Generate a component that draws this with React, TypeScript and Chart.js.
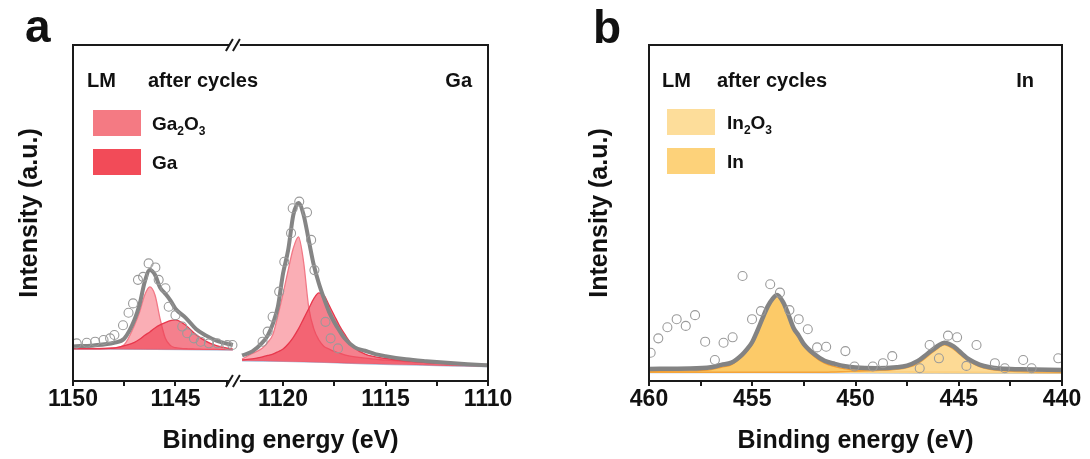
import React, { useEffect, useRef } from 'react';
import { Chart, registerables } from 'chart.js';

Chart.register(...registerables);

const FONT = '"Liberation Sans", Arial, Helvetica, sans-serif';

// ---------------- Panel a : Ga 2p (broken axis) ----------------
const gaTickEnergies = [1150, 1147.5, 1145, 1142.5, 1120, 1117.5, 1115, 1112.5, 1110];
const gaAxisStart = 1150;
const gaBreakLow = 1142.1;
const gaBreakHigh = 1122.35;

const gaLeftE = [1150, 1149, 1148, 1147.5, 1147, 1146.75, 1146.5, 1146.25, 1146, 1145.75, 1145.5, 1145.25, 1145, 1144.5, 1144, 1143.5, 1143, 1142.2];
const gaLeftEnvelope = [10.3, 10.6, 11.4, 12.6, 18.2, 22.8, 29.5, 33.0, 31.6, 27.8, 26.0, 24.0, 21.5, 18.8, 15.5, 13.5, 12.0, 10.7];
const gaLeftGa2O3 = [9.7, 9.7, 9.9, 10.8, 16.6, 20.5, 25.6, 28.0, 25.6, 18.5, 12.8, 10.6, 9.9, 9.6, 9.5, 9.4, 9.4, 9.3];
const gaLeftGa = [9.6, 9.6, 9.8, 10.5, 11.5, 12.4, 13.6, 14.6, 15.8, 16.7, 17.4, 18.0, 18.2, 16.6, 13.8, 11.8, 10.5, 9.5];
const gaLeftBgE = [1150, 1146, 1142.2];
const gaLeftBg = [9.5, 9.4, 9.2];
const gaLeftRawE = [1149.82, 1149.33, 1148.92, 1148.51, 1148.19, 1147.98, 1147.56, 1147.29, 1147.07, 1146.83, 1146.58, 1146.31, 1145.98, 1145.82, 1145.49, 1145.33, 1145.0, 1144.67, 1144.43, 1144.1, 1143.77, 1143.37, 1142.96, 1142.47, 1142.22];
const gaLeftRaw = [11.2, 11.4, 11.7, 12.2, 12.7, 13.7, 16.6, 20.3, 23.1, 30.1, 31.0, 35.0, 33.8, 30.1, 27.6, 22.1, 19.6, 16.2, 14.2, 12.7, 11.7, 11.2, 11.2, 10.7, 10.7];

const gaRightE = [1122, 1121.5, 1121, 1120.75, 1120.5, 1120.25, 1120, 1119.75, 1119.5, 1119.25, 1119, 1118.75, 1118.5, 1118.25, 1118, 1117.75, 1117.5, 1117.25, 1117, 1116.5, 1116, 1115.5, 1115, 1114, 1113, 1112, 1111, 1110];
const gaRightEnvelope = [7.6, 8.8, 11.5, 13.5, 17.0, 22.2, 32.0, 39.0, 49.4, 53.0, 49.5, 42.0, 34.5, 29.0, 24.5, 20.5, 17.5, 15.0, 12.7, 10.0, 9.0, 8.0, 7.4, 6.5, 5.9, 5.4, 5.0, 4.7];
const gaRightGa2O3 = [6.5, 8.2, 9.8, 11.5, 13.8, 19.5, 26.0, 33.0, 39.5, 42.9, 35.5, 22.0, 15.5, 12.2, 10.3, 9.5, 8.8, 8.3, 7.8, 7.2, 6.8, 6.5, 6.2, 5.8, 5.5, 5.2, 5.0, 4.8];
const gaRightGa = [6.3, 6.6, 7.2, 7.6, 8.0, 8.7, 9.5, 11.0, 13.0, 15.5, 18.5, 21.5, 24.5, 26.2, 25.5, 22.5, 19.5, 16.5, 14.0, 9.8, 8.0, 7.2, 6.7, 6.0, 5.5, 5.2, 4.9, 4.6];
const gaRightBgE = [1122, 1120, 1118, 1116, 1114, 1112, 1110];
const gaRightBg = [6.0, 5.8, 5.5, 5.1, 4.8, 4.5, 4.3];
const gaRightRawE = [1121.0, 1120.75, 1120.51, 1120.19, 1119.94, 1119.61, 1119.53, 1119.21, 1118.83, 1118.63, 1118.47, 1117.93, 1117.68, 1117.32];
const gaRightRaw = [11.7, 14.7, 19.1, 26.6, 35.5, 44.0, 51.4, 53.4, 50.2, 42.0, 33.0, 17.6, 12.7, 9.7];

// ---------------- Panel b : In 3d ----------------
const inTickEnergies = [460, 457.5, 455, 452.5, 450, 447.5, 445, 442.5, 440];
const inE = [460, 458, 457, 456.5, 456, 455.5, 455.25, 455, 454.75, 454.5, 454.25, 454, 453.8, 453.5, 453.25, 453, 452.75, 452.5, 452, 451.5, 451, 450.5, 450, 449, 448, 447.5, 447, 446.5, 446, 445.7, 445.25, 445, 444.5, 444, 443.5, 443, 442, 440];
const inEnvelope = [3.6, 3.7, 4.1, 4.8, 5.5, 7.8, 9.5, 11.6, 15.0, 18.7, 22.2, 24.6, 25.6, 23.4, 19.8, 15.8, 13.5, 11.0, 8.0, 6.0, 5.1, 4.4, 4.0, 3.8, 4.1, 4.6, 5.9, 8.2, 10.5, 11.4, 10.3, 9.0, 6.4, 4.9, 4.1, 3.7, 3.5, 3.3];
const inMetal = [2.9, 3.0, 3.4, 4.1, 4.9, 7.2, 8.9, 11.0, 14.4, 18.1, 21.7, 24.1, 25.2, 23.0, 19.3, 15.2, 12.9, 10.4, 7.3, 5.3, 4.3, 3.6, 3.2, 2.9, 2.8, 2.8, 2.7, 2.7, 2.7, 2.7, 2.7, 2.7, 2.6, 2.6, 2.6, 2.6, 2.6, 2.5];
const inOxide = [2.6, 2.6, 2.6, 2.6, 2.6, 2.6, 2.6, 2.6, 2.6, 2.6, 2.6, 2.6, 2.6, 2.6, 2.6, 2.6, 2.6, 2.6, 2.6, 2.6, 2.7, 2.8, 2.9, 3.1, 3.5, 4.0, 5.1, 7.4, 9.8, 10.8, 9.5, 8.2, 5.8, 4.3, 3.5, 3.1, 2.8, 2.6];
const inBgE = [460, 450, 440];
const inBg = [2.5, 2.4, 2.3];
const inRawE = [459.92, 459.55, 459.11, 458.66, 458.22, 457.77, 457.28, 456.81, 456.39, 455.95, 455.47, 455.01, 454.58, 454.13, 453.66, 453.2, 452.75, 452.31, 451.86, 451.42, 450.49, 450.05, 449.16, 448.67, 448.22, 446.89, 446.41, 445.96, 445.52, 445.08, 444.63, 444.14, 443.25, 442.77, 441.88, 441.47, 440.18];
const inRaw = [8.4, 12.7, 16.0, 18.4, 16.4, 19.6, 11.7, 6.25, 11.4, 13.0, 31.25, 18.4, 20.8, 28.8, 26.3, 21.1, 18.4, 15.4, 10.0, 10.2, 8.9, 4.3, 4.3, 5.3, 7.4, 3.8, 10.7, 6.75, 13.5, 13.0, 4.5, 10.7, 5.3, 3.8, 6.25, 3.8, 6.75];

// ---------------- helpers ----------------
const gaToU = (e: number) =>
  e >= (gaBreakLow + gaBreakHigh) / 2 ? gaAxisStart - e : gaAxisStart - gaBreakLow + gaBreakHigh - e;
const gaFromU = (u: number) =>
  u <= gaAxisStart - gaBreakLow ? gaAxisStart - u : gaAxisStart - gaBreakLow + gaBreakHigh - u;

const ptsA = (E: number[], I: number[]) => E.map((e, i) => ({ x: gaToU(e), y: I[i] }));
const ptsB = (E: number[], I: number[]) => E.map((e, i) => ({ x: e, y: I[i] }));

type TextItem = { parts: [string, boolean][]; x: number; y: number; size: number; align?: 'left' | 'right' };
type Swatch = { x: number; y: number; w: number; h: number; color: string };
type Spec = { texts: TextItem[]; swatches: Swatch[]; breakE?: number };

function drawParts(ctx: CanvasRenderingContext2D, t: TextItem) {
  const sub = Math.round(t.size * 0.65);
  const widths = t.parts.map(([s, isSub]) => {
    ctx.font = `bold ${isSub ? sub : t.size}px ${FONT}`;
    return ctx.measureText(s).width;
  });
  const total = widths.reduce((a, b) => a + b, 0);
  let x = t.align === 'right' ? t.x - total : t.x;
  ctx.textBaseline = 'alphabetic';
  ctx.textAlign = 'left';
  t.parts.forEach(([s, isSub], i) => {
    ctx.font = `bold ${isSub ? sub : t.size}px ${FONT}`;
    ctx.fillText(s, x, t.y + (isSub ? Math.round(t.size * 0.25) : 0));
    x += widths[i];
  });
}

function overlay(spec: Spec) {
  return {
    id: 'overlay',
    afterDraw(chart: any) {
      const { ctx, chartArea: ca } = chart;
      ctx.save();
      ctx.strokeStyle = '#1a1a1a';
      ctx.lineWidth = 2;
      ctx.strokeRect(ca.left, ca.top, ca.right - ca.left, ca.bottom - ca.top);
      if (spec.breakE !== undefined) {
        const bx = chart.scales.x.getPixelForValue(gaToU(spec.breakE)) + 1;
        [ca.top, ca.bottom].forEach((y: number) => {
          ctx.fillStyle = '#ffffff';
          ctx.fillRect(bx - 6, y - 2, 10, 4);
          ctx.strokeStyle = '#1a1a1a';
          ctx.lineWidth = 2;
          ctx.beginPath();
          ctx.moveTo(bx - 10, y + 6);
          ctx.lineTo(bx - 3, y - 6);
          ctx.moveTo(bx - 3, y + 6);
          ctx.lineTo(bx + 4, y - 6);
          ctx.stroke();
        });
      }
      spec.swatches.forEach((s) => {
        ctx.fillStyle = s.color;
        ctx.fillRect(s.x, s.y, s.w, s.h);
      });
      ctx.fillStyle = '#111111';
      spec.texts.forEach((t) => drawParts(ctx, t));
      ctx.restore();
    },
  };
}

const rawStyle = {
  showLine: false,
  pointRadius: 4.5,
  pointBorderWidth: 1.1,
  pointBorderColor: '#9a9a9a',
  pointBackgroundColor: 'rgba(255,255,255,0)',
};
const lineStyle = (color: string, width: number) => ({
  borderColor: color,
  borderWidth: width,
  pointRadius: 0,
  cubicInterpolationMode: 'monotone' as const,
});

function baseOptions(yTitlePad: number, yWidth: number, padRight: number, xScale: any) {
  return {
    responsive: false,
    animation: false,
    devicePixelRatio: 1,
    events: [],
    layout: { padding: { top: 45, right: padRight, bottom: 0, left: 0 } },
    plugins: { legend: { display: false }, tooltip: { enabled: false } },
    scales: {
      x: {
        ...xScale,
        type: 'linear',
        afterFit: (s: any) => {
          s.height = 78;
        },
        border: { display: false },
        grid: { drawOnChartArea: false, drawTicks: true, tickLength: 5, color: '#1a1a1a', lineWidth: 2 },
        ticks: {
          ...(xScale.ticks || {}),
          autoSkip: false,
          maxRotation: 0,
          padding: 0,
          color: '#111111',
          font: { family: FONT, size: 23, weight: 'bold' },
        },
        title: {
          display: true,
          text: 'Binding energy (eV)',
          color: '#111111',
          font: { family: FONT, size: 25, weight: 'bold' },
          padding: { top: 0, bottom: 3 },
        },
      },
      y: {
        min: 0,
        max: 100,
        afterFit: (s: any) => {
          s.width = yWidth;
        },
        border: { display: false },
        grid: { display: false },
        ticks: { display: false },
        title: {
          display: true,
          text: 'Intensity (a.u.)',
          color: '#111111',
          font: { family: FONT, size: 25, weight: 'bold' },
          padding: { top: yTitlePad, bottom: 0 },
        },
      },
    },
  };
}

function configA(): any {
  const pink = 'rgba(246,120,132,0.6)';
  const red = 'rgba(238,60,80,0.65)';
  return {
    type: 'line',
    data: {
      datasets: [
        { ...rawStyle, data: [...ptsA(gaLeftRawE, gaLeftRaw), ...ptsA(gaRightRawE, gaRightRaw)] },
        { ...lineStyle('#858585', 4), data: ptsA(gaLeftE, gaLeftEnvelope) },
        { ...lineStyle('#858585', 4), data: ptsA(gaRightE, gaRightEnvelope) },
        { ...lineStyle('#e8384d', 1.3), data: ptsA(gaLeftE, gaLeftGa), fill: 7, backgroundColor: red },
        { ...lineStyle('#e8384d', 1.3), data: ptsA(gaRightE, gaRightGa), fill: 8, backgroundColor: red },
        { ...lineStyle('#f27886', 1.3), data: ptsA(gaLeftE, gaLeftGa2O3), fill: 7, backgroundColor: pink },
        { ...lineStyle('#f27886', 1.3), data: ptsA(gaRightE, gaRightGa2O3), fill: 8, backgroundColor: pink },
        { ...lineStyle('#a9bcd8', 1.2), data: ptsA(gaLeftBgE, gaLeftBg) },
        { ...lineStyle('#a9bcd8', 1.2), data: ptsA(gaRightBgE, gaRightBg) },
      ],
    },
    options: baseOptions(15, 73, 57, {
      min: gaToU(gaTickEnergies[0]),
      max: gaToU(gaTickEnergies[gaTickEnergies.length - 1]),
      afterBuildTicks: (s: any) => {
        s.ticks = gaTickEnergies.map((e) => ({ value: gaToU(e) }));
      },
      ticks: {
        callback: (v: number) => {
          const e = Math.round(gaFromU(v) * 10) / 10;
          return e % 5 === 0 ? String(e) : '';
        },
      },
    }),
    plugins: [
      overlay({
        breakE: gaBreakLow,
        swatches: [
          { x: 93, y: 110, w: 48, h: 26, color: '#f47a83' },
          { x: 93, y: 149, w: 48, h: 26, color: '#f24b58' },
        ],
        texts: [
          { parts: [['a', false]], x: 25, y: 42, size: 46 },
          { parts: [['LM', false]], x: 87, y: 87, size: 20 },
          { parts: [['after cycles', false]], x: 148, y: 87, size: 20 },
          { parts: [['Ga', false]], x: 472, y: 87, size: 20, align: 'right' },
          { parts: [['Ga', false], ['2', true], ['O', false], ['3', true]], x: 152, y: 130, size: 19 },
          { parts: [['Ga', false]], x: 152, y: 169, size: 19 },
        ],
      }),
    ],
  };
}

function configB(): any {
  return {
    type: 'line',
    data: {
      datasets: [
        { ...rawStyle, data: ptsB(inRawE, inRaw) },
        { ...lineStyle('#838383', 4.5), data: ptsB(inE, inEnvelope) },
        { ...lineStyle('#f4a43a', 1.4), data: ptsB(inE, inOxide), fill: 4, backgroundColor: 'rgba(253,214,138,0.9)' },
        { ...lineStyle('#f29a2e', 1.4), data: ptsB(inE, inMetal), fill: 4, backgroundColor: 'rgba(252,196,88,0.9)' },
        { ...lineStyle('#a9bcd8', 1.2), data: ptsB(inBgE, inBg) },
      ],
    },
    options: baseOptions(40, 104, 28, {
      min: inTickEnergies[inTickEnergies.length - 1],
      max: inTickEnergies[0],
      reverse: true,
      afterBuildTicks: (s: any) => {
        s.ticks = inTickEnergies.map((e) => ({ value: e }));
      },
      ticks: {
        callback: (v: number) => (v % 5 === 0 ? String(v) : ''),
      },
    }),
    plugins: [
      overlay({
        swatches: [
          { x: 122, y: 109, w: 48, h: 26, color: '#fddd9a' },
          { x: 122, y: 148, w: 48, h: 26, color: '#fdd27a' },
        ],
        texts: [
          { parts: [['b', false]], x: 48, y: 43, size: 46 },
          { parts: [['LM', false]], x: 117, y: 87, size: 20 },
          { parts: [['after cycles', false]], x: 172, y: 87, size: 20 },
          { parts: [['In', false]], x: 489, y: 87, size: 20, align: 'right' },
          { parts: [['In', false], ['2', true], ['O', false], ['3', true]], x: 182, y: 129, size: 19 },
          { parts: [['In', false]], x: 182, y: 168, size: 19 },
        ],
      }),
    ],
  };
}

export default function App() {
  const refA = useRef<HTMLCanvasElement>(null);
  const refB = useRef<HTMLCanvasElement>(null);
  useEffect(() => {
    const a = new Chart(refA.current as HTMLCanvasElement, configA());
    const b = new Chart(refB.current as HTMLCanvasElement, configB());
    return () => {
      a.destroy();
      b.destroy();
    };
  }, []);
  return (
    <div style={{ position: 'fixed', left: 0, top: 0, width: 1090, height: 459, background: '#ffffff' }}>
      <canvas ref={refA} width={545} height={459} style={{ position: 'absolute', left: 0, top: 0, width: 545, height: 459 }} />
      <canvas ref={refB} width={545} height={459} style={{ position: 'absolute', left: 545, top: 0, width: 545, height: 459 }} />
    </div>
  );
}
